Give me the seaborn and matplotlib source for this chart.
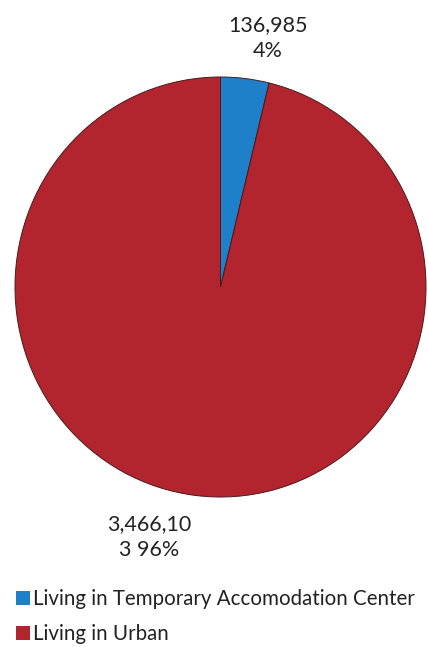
import matplotlib
matplotlib.use("Agg")
import matplotlib.pyplot as plt
import seaborn as sns

sns.set_theme(style="white")
plt.rcParams['font.family'] = ['Lato', 'DejaVu Sans']

categories = ["Living in Temporary Accomodation Center", "Living in Urban"]
values = [136985, 3466103]
value_labels = ["136,985\n4%", "3,466,10\n3 96%"]
colors = ["#1D80C9", "#B3252E"]

fig = plt.figure(figsize=(4.28, 6.47), dpi=100)
ax = fig.add_axes([15/428, (647-497)/647, 411/428, 420/647])
wedges, _ = ax.pie(values, colors=colors, startangle=90, counterclock=False,
                   wedgeprops=dict(edgecolor="#4a1a1a", linewidth=0.7))
ax.set_aspect('auto')
ax.set_xlim(-1, 1)
ax.set_ylim(-1, 1)

fig.text(268/428, 1 - 38/647, value_labels[0], ha="center", va="center",
         fontsize=15.5, color="#222222", linespacing=1.4)
fig.text(149/428, 1 - 537/647, value_labels[1], ha="center", va="center",
         fontsize=15.5, color="#222222", linespacing=1.4)

leg = fig.legend(wedges, categories, loc="upper left",
                 bbox_to_anchor=(16/428, 1 - 589/647), frameon=False,
                 fontsize=14.8, handlelength=0.7, handleheight=0.7,
                 handletextpad=0.15, labelspacing=0.75, borderaxespad=0,
                 borderpad=0)
for t in leg.get_texts():
    t.set_color("#222222")
for h in leg.legend_handles:
    h.set_linewidth(0)

fig.savefig("out.png", dpi=100)
